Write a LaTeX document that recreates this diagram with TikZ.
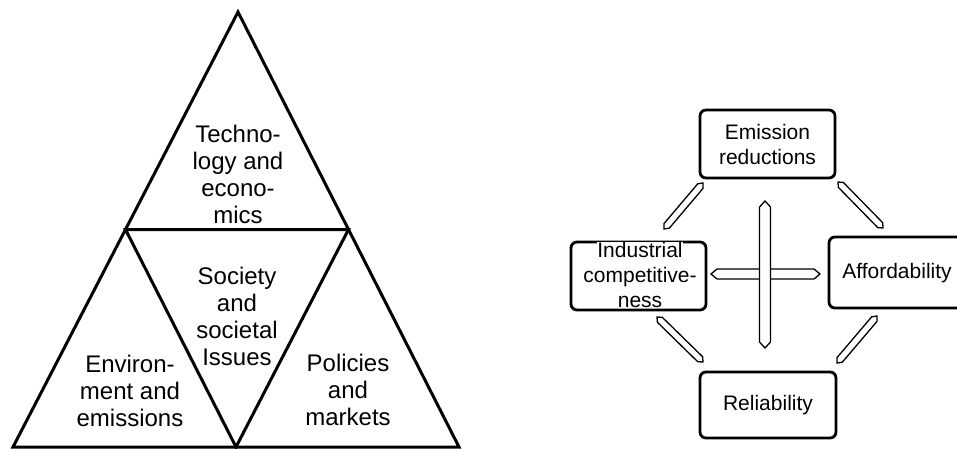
\documentclass[tikz,border=0pt]{standalone}
\usepackage{fontspec}
\setmainfont{Liberation Sans}
\usetikzlibrary{calc}

% hollow double-headed link: from, to, half width, head length
\newcommand{\hollowlink}[4]{%
  \path[link] (#1) -- ($(#1)!#4!(#2)!#3!90:(#2)$) -- ($(#2)!#4!(#1)!#3!-90:(#1)$)
    -- (#2) -- ($(#2)!#4!(#1)!#3!90:(#1)$) -- ($(#1)!#4!(#2)!#3!-90:(#2)$) -- cycle;}

\begin{document}
\begin{tikzpicture}[x=1pt,y=-1pt,
  tri/.style={line width=3pt, line join=miter},
  bigtext/.style={align=center, font=\fontsize{24}{27}\selectfont, inner sep=0pt},
  goalbox/.style={draw, line width=2.8pt, rounded corners=6pt},
  goaltext/.style={align=center, font=\fontsize{21}{25}\selectfont, inner sep=0pt},
  link/.style={draw, line width=1.3pt, fill=white, line join=miter}]

\useasboundingbox (0,0) rectangle (957,449);

% ---------- nested triangles ----------
\coordinate (apex) at (238,12);
\coordinate (bl) at (13,447);
\coordinate (br) at (459,447);
\coordinate (ml) at ($(bl)!.5!(apex)$);
\coordinate (mr) at ($(br)!.5!(apex)$);
\coordinate (mb) at ($(bl)!.5!(br)$);

\draw[tri] (apex) -- (br) -- (bl) -- cycle;
\draw[tri] (ml) -- (mr) -- (mb) -- cycle;

\node[bigtext] (tech) at (238,174) {Techno-\\logy and\\econo-\\mics};
\node[bigtext] (soc)  at (237,316) {Society\\and\\societal\\Issues};
\node[bigtext] (env)  at (130,391) {Environ-\\ment and\\emissions};
\node[bigtext] (pol)  at (348,390) {Policies\\and\\markets};

% ---------- goals and their links ----------
\node[goalbox, goaltext, minimum width=135pt, minimum height=68pt] (emis) at (767.5,144) {Emission\\reductions};
\node[goalbox, minimum width=135pt, minimum height=68pt] (indbox) at (638.5,276) {};
\node[goaltext, fill=white, anchor=base] (ind1) at (640,257) {Industrial};
\node[goaltext, anchor=base] (ind2) at (640,282) {competitive-};
\node[goaltext, anchor=base] (ind3) at (640,307) {ness};
\node[goalbox, minimum width=136pt, minimum height=71pt] (affbox) at (897,272.5) {};
\node[goaltext] (aff) at (897,273) {Affordability};
\node[goalbox, goaltext, minimum width=136pt, minimum height=66pt] (rel) at (768,405) {Reliability};

\coordinate (hA) at (711,274);  \coordinate (hB) at (820,274);
\coordinate (vA) at (765,201);  \coordinate (vB) at (765,348);
\coordinate (tlA) at (664,229); \coordinate (tlB) at (703,183);
\coordinate (trA) at (838,182); \coordinate (trB) at (883,228);
\coordinate (blA) at (657,317); \coordinate (blB) at (703,362);
\coordinate (brA) at (877,316); \coordinate (brB) at (837,363);

\hollowlink{hA}{hB}{5pt}{6pt}
\hollowlink{vA}{vB}{5.5pt}{6pt}
\hollowlink{tlA}{tlB}{3.5pt}{4pt}
\hollowlink{trA}{trB}{3.5pt}{4pt}
\hollowlink{blA}{blB}{3.5pt}{4pt}
\hollowlink{brA}{brB}{3.5pt}{4pt}

\end{tikzpicture}
\end{document}
